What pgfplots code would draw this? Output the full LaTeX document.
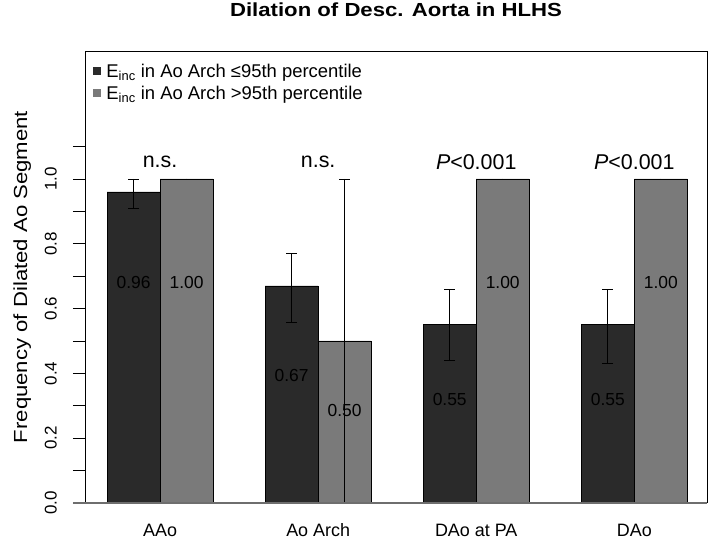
\documentclass[border=0pt]{standalone}
\usepackage{fontspec}
\setmainfont{Liberation Sans}
\newfontfamily\widefont[FakeStretch=1.17]{Liberation Sans}
\usepackage{pgfplots}
\pgfplotsset{compat=1.18}
\definecolor{darkbar}{HTML}{2A2A2A}
\definecolor{graybar}{HTML}{7A7A7A}
\definecolor{baseln}{HTML}{6E6E6E}
\begin{document}
\begin{tikzpicture}
\useasboundingbox (-85bp,-39bp) rectangle (624bp,503bp);
\begin{axis}[
  scale only axis, width=622bp, height=452bp,
  xmin=-0.475, xmax=3.46, ymin=0, ymax=1.395,
  enlargelimits=false, clip=false,
  ybar=0pt, bar width=53bp,
  axis line style={draw=none},
  xtick={0,1,2,3}, xticklabels={AAo, Ao Arch, DAo at PA, DAo},
  x tick style={draw=none},
  xticklabel style={font=\fontsize{18}{20}\selectfont, inner sep=0pt, yshift=-21.5bp, anchor=base},
  ytick={0,0.2,...,1.0}, minor ytick={0.1,0.3,...,1.1},
  ytick pos=left, tick align=outside, major tick length=12bp, minor tick length=12bp,
  y tick style={line width=0.8bp, black},
  yticklabel shift=16bp,
  yticklabel style={rotate=90, anchor=south, inner sep=0pt, font=\fontsize{17}{19}\selectfont,
    /pgf/number format/.cd, fixed, fixed zerofill, precision=1, assume math mode=true},
  legend style={draw=none, fill=none, at={(axis description cs:0.006,0.975)}, anchor=north west,
    font=\fontsize{18.5}{21}\selectfont, row sep=4bp, inner sep=0pt,
    nodes={inner sep=1.5bp}},
  legend cell align=left,
  legend image code/.code={\path[draw=none, fill=none] (0bp,0bp) -- (16bp,0bp); \fill[#1, draw=none] (4bp,-4bp) rectangle (12bp,4bp);},
]
\addplot[fill=darkbar, draw=black, line width=0.6bp,
  error bars/.cd, y dir=both, y explicit,
  error bar style={black, line width=0.8bp},
  error mark options={rotate=90, mark size=5.5bp, black, line width=0.8bp}]
  coordinates {
    (0,0.96) +=(0,0.04) -=(0,0.05)
    (1,0.67) +=(0,0.10) -=(0,0.114)
    (2,0.55) +=(0,0.11) -=(0,0.11)
    (3,0.55) +=(0,0.11) -=(0,0.12)
  };
\addlegendentry{E\textsubscript{inc} in Ao Arch ≤95th percentile}
\addplot[fill=graybar, draw=black, line width=0.6bp,
  error bars/.cd, y dir=both, y explicit,
  error bar style={black, line width=0.8bp},
  error mark options={rotate=90, mark size=5.5bp, black, line width=0.8bp}]
  coordinates {
    (0,1.00) +=(0,0) -=(0,0)
    (1,0.50) +=(0,0.50) -=(0,0.50)
    (2,1.00) +=(0,0) -=(0,0)
    (3,1.00) +=(0,0) -=(0,0)
  };
\addlegendentry{E\textsubscript{inc} in Ao Arch >95th percentile}
% frame and baseline
\draw[black, line width=0.8bp] (rel axis cs:0,0) -- (rel axis cs:0,1) -- (rel axis cs:1,1) -- (rel axis cs:1,0);
\draw[baseln, line width=1.6bp] ([xshift=-12bp]axis cs:-0.475,0) -- (axis cs:3.46,0);
% value labels
\begin{scope}[every node/.style={font=\fontsize{17.5}{20}\selectfont, text=black}]
\node[xshift=-26.5bp] at (axis cs:0,0.68) {0.96};
\node[xshift=26.5bp] at (axis cs:0,0.68) {1.00};
\node[xshift=-26.5bp] at (axis cs:1,0.395) {0.67};
\node[xshift=26.5bp] at (axis cs:1,0.285) {0.50};
\node[xshift=-26.5bp] at (axis cs:2,0.318) {0.55};
\node[xshift=26.5bp] at (axis cs:2,0.68) {1.00};
\node[xshift=-26.5bp] at (axis cs:3,0.318) {0.55};
\node[xshift=26.5bp] at (axis cs:3,0.68) {1.00};
\end{scope}
\begin{scope}[every node/.style={font=\fontsize{21.5}{24}\selectfont}]
\node at (axis cs:0,1.052) {n.s.};
\node at (axis cs:1,1.052) {n.s.};
\node at (axis cs:2,1.052) {\textit{P}<0.001};
\node at (axis cs:3,1.052) {\textit{P}<0.001};
\end{scope}
\node[font=\widefont\bfseries\fontsize{19}{22}\selectfont] at (axis description cs:0.5,1) [yshift=41bp] {Dilation of Desc. Aorta in HLHS};
\node[rotate=90, font=\widefont\fontsize{19}{22}\selectfont] at (axis description cs:-0.101,0.5) {Frequency of Dilated Ao Segment};
\end{axis}
\end{tikzpicture}
\end{document}
